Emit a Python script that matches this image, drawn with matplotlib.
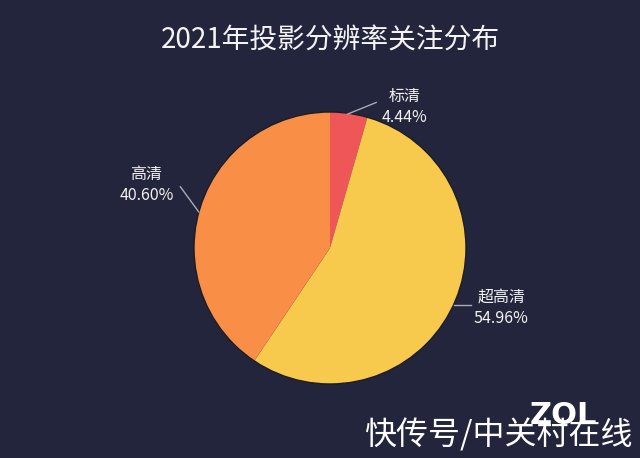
import matplotlib
matplotlib.use("Agg")
import matplotlib.pyplot as plt

plt.rcParams['font.family'] = ['Noto Sans CJK SC', 'DejaVu Sans']

# data
labels = ['标清', '超高清', '高清']
values = [4.44, 54.96, 40.60]
colors = ['#ef5657', '#f7c94d', '#f98f47']

# label layout (data units, pie radius = 1)
text_pos = [(0.55, 1.04), (1.26, -0.44), (-1.35, 0.46)]
line_start = [(0.13, 0.985), (0.91, -0.42), (-0.965, 0.265)]
line_end = [(0.34, 1.07), (1.04, -0.42), (-1.10, 0.45)]

bg = '#22253b'
W, H = 640, 458
cx, cy, r = 330, 248, 136

fig = plt.figure(figsize=(W / 100, H / 100), dpi=100, facecolor=bg)
ax = fig.add_axes([0, 0, 1, 1])
ax.set_facecolor(bg)

ax.pie(values, colors=colors, startangle=90, counterclock=False, radius=1,
       wedgeprops=dict(linewidth=0))
circle = plt.Circle((0, 0), 1, fill=False, edgecolor='#1e1c22', lw=1)
ax.add_patch(circle)
ax.set_aspect('auto')
ax.set_xlim(-cx / r, (W - cx) / r)
ax.set_ylim(-(H - cy) / r, cy / r)
ax.axis('off')

for lab, v, tp, s, e in zip(labels, values, text_pos, line_start, line_end):
    ax.plot([s[0], e[0]], [s[1], e[1]], color='#a8abb8', lw=1)
    ax.text(tp[0], tp[1], f'{lab}\n{v:.2f}%', color='#f2f2f2', fontsize=11.5,
            ha='center', va='center', linespacing=1.3)

fig.text(330 / W, 1 - 40 / H, '2021年投影分辨率关注分布', color='#f4f4f4',
         fontsize=20, ha='center', va='center')

# watermark
fig.text(563 / W, 1 - 415 / H, 'ZOL', color='white', fontsize=22,
         fontweight='bold', ha='center', va='center', family='DejaVu Sans')
fig.text(498 / W, 1 - 435 / H, '快传号/中关村在线', color='white', fontsize=23,
         ha='center', va='center')

fig.savefig('out.png', dpi=100, facecolor=bg)
